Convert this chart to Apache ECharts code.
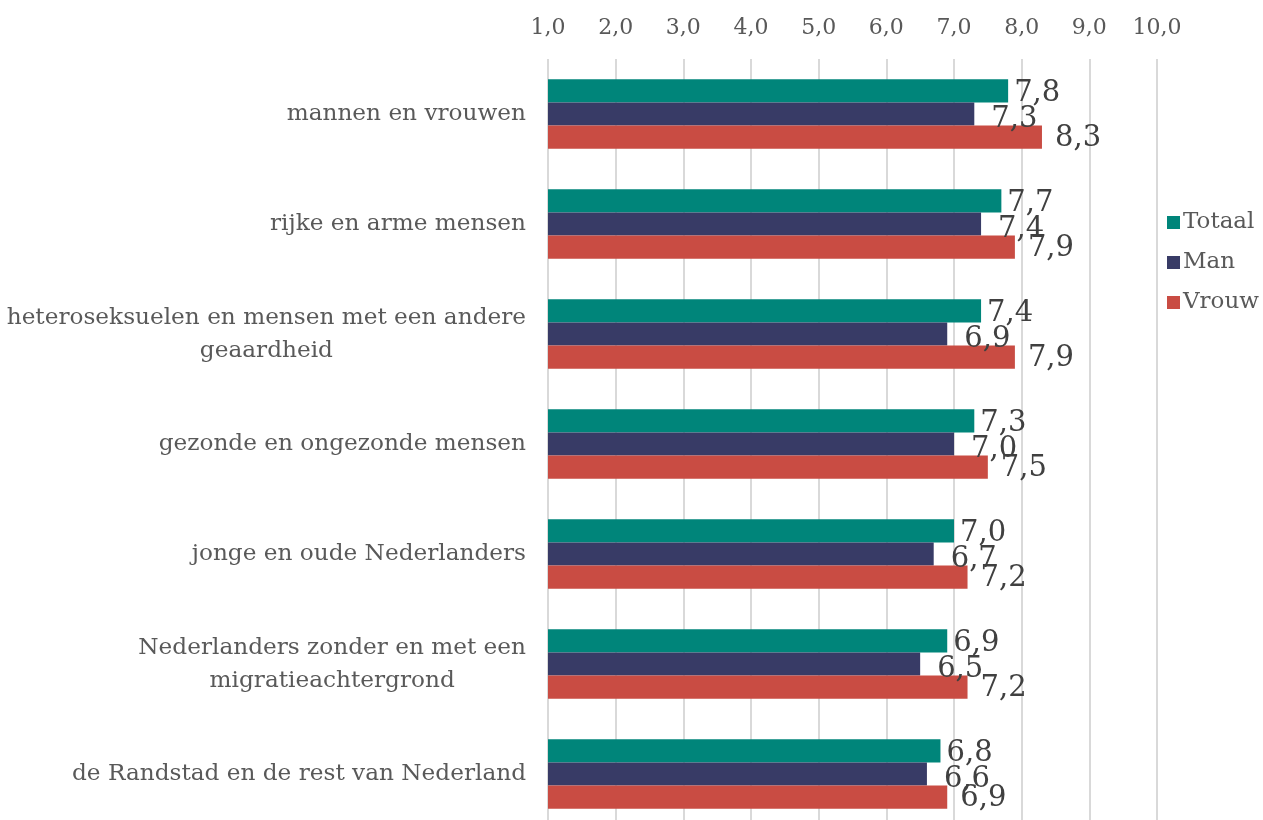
<!DOCTYPE html>
<html lang="nl">
<head>
    <meta charset="UTF-8">
    <title>Gelijkheid tussen groepen</title>
    <script src="https://cdn.jsdelivr.net/npm/echarts@6/dist/echarts.min.js"></script>
    <style>
        html, body { margin: 0; padding: 0; background: #fff; }
        #main { width: 1263px; height: 820px; }
    </style>
</head>
<body>
    <div id="main"></div>
    <script>
        // categorieën van boven naar beneden
        var categories = [
            'mannen en vrouwen',
            'rijke en arme mensen',
            'heteroseksuelen en mensen met een andere\ngeaardheid',
            'gezonde en ongezonde mensen',
            'jonge en oude Nederlanders',
            'Nederlanders zonder en met een\nmigratieachtergrond',
            'de Randstad en de rest van Nederland'
        ];
        var totaal = [7.8, 7.7, 7.4, 7.3, 7.0, 6.9, 6.8];
        var man = [7.3, 7.4, 6.9, 7.0, 6.7, 6.5, 6.6];
        var vrouw = [8.3, 7.9, 7.9, 7.5, 7.2, 7.2, 6.9];

        var font = '"DejaVu Serif", serif';
        var chart = echarts.init(document.getElementById('main'));

        function komma(v) {
            return v.toFixed(1).replace('.', ',');
        }

        function serie(name, data, color, offset) {
            return {
                name: name,
                type: 'bar',
                data: data,
                barGap: '0%',
                barCategoryGap: '37%',
                itemStyle: { color: color },
                label: {
                    show: true,
                    position: 'right',
                    distance: 5,
                    offset: offset,
                    color: '#404040',
                    fontFamily: font,
                    fontSize: 29,
                    formatter: function (p) { return komma(p.value); }
                }
            };
        }

        var option = {
            animation: false,
            textStyle: { fontFamily: font },
            grid: { left: 548, right: 106, top: 59, bottom: -9, outerBoundsMode: 'none', containLabel: false },
            legend: {
                orient: 'vertical',
                left: 1162,
                top: 206,
                itemWidth: 13,
                itemHeight: 13,
                itemGap: 17,
                icon: 'rect',
                textStyle: { fontFamily: font, fontSize: 23, color: '#595959', padding: [0, 0, 0, -2] },
                data: ['Totaal', 'Man', 'Vrouw']
            },
            xAxis: {
                type: 'value',
                position: 'top',
                min: 1,
                max: 10,
                interval: 1,
                axisLine: { show: false },
                axisTick: { show: false },
                splitLine: { lineStyle: { color: '#D9D9D9', width: 2 } },
                axisLabel: {
                    margin: 20,
                    color: '#595959',
                    fontFamily: font,
                    fontSize: 22,
                    formatter: function (v) { return komma(v); }
                }
            },
            yAxis: {
                type: 'category',
                inverse: true,
                data: categories,
                axisLine: { show: false },
                axisTick: { show: false },
                axisLabel: {
                    margin: 22,
                    color: '#595959',
                    fontFamily: font,
                    fontSize: 23.2,
                    lineHeight: 33,
                    formatter: function (v) {
                        return v.split('\n').map(function (l) { return '{c|' + l + '}'; }).join('\n');
                    },
                    rich: {
                        c: { align: 'center', fontFamily: font, fontSize: 23.2, color: '#595959', lineHeight: 33 }
                    }
                }
            },
            series: [
                serie('Totaal', totaal, '#00857A', [1, 3]),
                serie('Man', man, '#383B66', [12, 5]),
                serie('Vrouw', vrouw, '#C94C43', [8, 1])
            ]
        };

        chart.setOption(option);
        window.addEventListener('resize', function () { chart.resize(); });
    </script>
</body>
</html>
